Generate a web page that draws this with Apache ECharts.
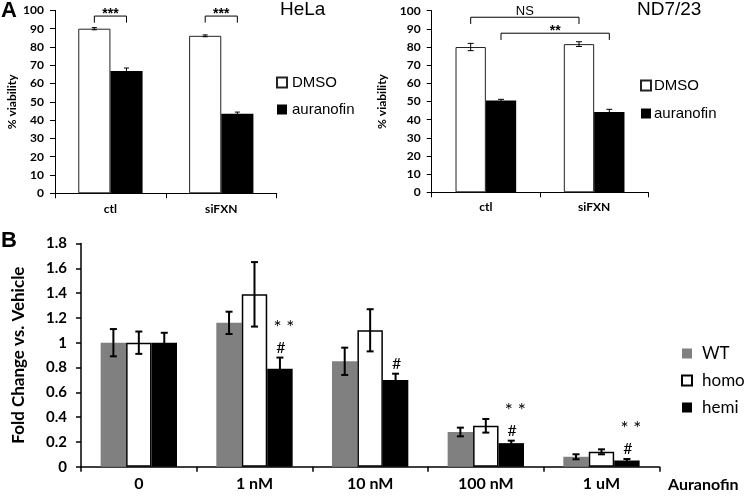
<!DOCTYPE html>
<html>
<head>
<meta charset="utf-8">
<script src="https://cdn.jsdelivr.net/npm/echarts@6/dist/echarts.min.js"></script>
<style>
  html, body { margin: 0; padding: 0; background: #fff; }
  #chart { width: 750px; height: 496px; }
</style>
</head>
<body>
<div id="chart"></div>
<script>
// ---------- DATA ----------
// Panel A, HeLa
const helaCategories = ['ctl', 'siFXN'];
const helaDMSO = [90.0, 86.1];
const helaDMSOErr = [0.6, 0.5];
const helaAuranofin = [66.8, 43.5];
const helaAuranofinErr = [1.7, 0.9];
// brackets: [cat1, bar1, cat2, bar2, level, legEnd]
const helaBrackets = [[0, 0, 0, 1, 96.9, 93.3], [1, 0, 1, 1, 96.9, 93.3]];
const helaBracketLabels = ['***', '***'];

// Panel A, ND7/23
const ndCategories = ['ctl', 'siFXN'];
const ndDMSO = [80.0, 81.6];
const ndDMSOErr = [2.0, 1.3];
const ndAuranofin = [50.5, 44.2];
const ndAuranofinErr = [0.7, 1.5];
const ndBrackets = [[0, 0, 1, 0, 96.4, 92.7], [0, 1, 1, 1, 87.6, 83.9]];
const ndBracketLabels = ['NS', '**'];

// Panel B
const bCategories = ['0', '1 nM', '10 nM', '100 nM', '1 uM'];
const wtValues = [1.00, 1.16, 0.85, 0.28, 0.08];
const wtErr = [0.11, 0.09, 0.11, 0.035, 0.02];
const homoValues = [1.00, 1.39, 1.10, 0.33, 0.12];
const homoErr = [0.09, 0.26, 0.17, 0.055, 0.02];
const hemiValues = [1.00, 0.79, 0.70, 0.19, 0.05];
const hemiErr = [0.08, 0.09, 0.05, 0.02, 0.012];
const hemiStars = ['', '**', '', '**', '**'];
const hemiHash = ['', '#', '#', '#', '#'];

const yTicksA = { min: 0, max: 100, interval: 10 };
const yTicksB = { min: 0, max: 1.8, interval: 0.2 };

// ---------- HELPERS ----------
const FONT_NUM = 'Lato';
const FONT_ARIAL = 'Liberation Sans';

function barSeries(name, xi, values, style, frac) {
  return {
    name, type: 'bar', xAxisIndex: xi, yAxisIndex: xi,
    data: values, barWidth: (frac * 100) + '%', barGap: '0%',
    itemStyle: style, silent: true, z: 2
  };
}

function errSeries(xi, values, errs, barIdx, nBars, frac, capW, lw) {
  return {
    type: 'custom', xAxisIndex: xi, yAxisIndex: xi, z: 10, silent: true,
    data: values.map((v, i) => [i, v, errs[i]]),
    encode: { x: 0, y: 1 },
    renderItem: function (params, api) {
      const cat = api.value(0), v = api.value(1), e = api.value(2);
      const bw = api.size([1, 0])[0] * frac;
      const off = (barIdx - (nBars - 1) / 2) * bw;
      const t = api.coord([cat, v + e]);
      const b = api.coord([cat, v - e]);
      const x = t[0] + off;
      const st = { stroke: '#000', lineWidth: lw };
      return {
        type: 'group', children: [
          { type: 'line', shape: { x1: x, y1: t[1], x2: x, y2: b[1] }, style: st },
          { type: 'line', shape: { x1: x - capW / 2, y1: t[1], x2: x + capW / 2, y2: t[1] }, style: st },
          { type: 'line', shape: { x1: x - capW / 2, y1: b[1], x2: x + capW / 2, y2: b[1] }, style: st }
        ]
      };
    }
  };
}

function bracketSeries(xi, rows, labels, nBars, frac, font, textGap) {
  return {
    type: 'custom', xAxisIndex: xi, yAxisIndex: xi, z: 10, silent: true,
    data: rows.map((r, i) => r.concat([i])),
    encode: { x: 0, y: 4 },
    renderItem: function (params, api) {
      const c1 = api.value(0), b1 = api.value(1), c2 = api.value(2), b2 = api.value(3);
      const lv = api.value(4), leg = api.value(5), idx = api.value(6);
      const bw = api.size([1, 0])[0] * frac;
      const p1 = api.coord([c1, lv]), p2 = api.coord([c2, lv]);
      const x1 = p1[0] + (b1 - (nBars - 1) / 2) * bw;
      const x2 = p2[0] + (b2 - (nBars - 1) / 2) * bw;
      const yl = api.coord([c1, leg])[1];
      const y = p1[1];
      const txt = labels[idx];
      const isStar = txt.indexOf('*') >= 0;
      return {
        type: 'group', children: [
          { type: 'polyline', shape: { points: [[x1, yl], [x1, y], [x2, y], [x2, yl]] },
            style: { stroke: '#000', lineWidth: 1, fill: null } },
          { type: 'text', style: { text: txt, x: (x1 + x2) / 2, y: y - (isStar ? textGap[0] : textGap[1]),
              align: 'center', verticalAlign: 'middle',
              font: isStar ? font[0] : font[1], fill: '#000' } }
        ]
      };
    }
  };
}

function markerSeries(xi, values, errs, stars, hashes, barIdx, nBars, frac) {
  return {
    type: 'custom', xAxisIndex: xi, yAxisIndex: xi, z: 11, silent: true,
    data: values.map((v, i) => [i, v + errs[i]]),
    encode: { x: 0, y: 1 },
    renderItem: function (params, api) {
      const cat = api.value(0), top = api.value(1);
      const bw = api.size([1, 0])[0] * frac;
      const off = (barIdx - (nBars - 1) / 2) * bw;
      const p = api.coord([cat, top]);
      const x = p[0] + off;
      const i = params.dataIndex;
      const children = [];
      if (hashes[i]) children.push({ type: 'text', style: { text: hashes[i], x: x + 1, y: p[1] - 10,
        align: 'center', verticalAlign: 'middle', font: '16px ' + FONT_NUM, fill: '#000' } });
      if (stars[i]) children.push({ type: 'text', style: { text: stars[i].split('').join(' '), x: x + 4, y: p[1] - 30,
        align: 'center', verticalAlign: 'middle', font: '19px ' + FONT_NUM, fill: '#000' } });
      return { type: 'group', children };
    }
  };
}

const white = { color: '#ffffff', borderColor: '#222', borderWidth: 1 };
const black = { color: '#000000' };
const gray = { color: '#808080' };
const whiteB = { color: '#ffffff', borderColor: '#000', borderWidth: 1.5 };

const fracA1 = 0.29, fracA2 = 0.28, fracB = 0.22;

function catAxis(gi, cats, fontSize, margin, lw) {
  return {
    type: 'category', gridIndex: gi, data: cats,
    axisLine: { lineStyle: { color: '#000', width: lw } },
    axisTick: { show: true, length: 5, lineStyle: { color: '#000', width: lw } },
    axisLabel: { color: '#000', fontFamily: FONT_NUM, fontWeight: 'bold', fontSize, margin },
    splitLine: { show: false }
  };
}
function valAxis(gi, ticks, fontSize, margin, lw, name, nameSize, nameGap) {
  return {
    type: 'value', gridIndex: gi, min: ticks.min, max: ticks.max, interval: ticks.interval,
    axisLine: { show: true, lineStyle: { color: '#000', width: lw } },
    axisTick: { show: true, length: 5, lineStyle: { color: '#000', width: lw } },
    axisLabel: { color: '#000', fontFamily: FONT_NUM, fontWeight: 'bold', fontSize, margin },
    splitLine: { show: false },
    name, nameLocation: 'middle', nameRotate: 90, nameGap,
    nameTextStyle: { color: '#000', fontFamily: FONT_NUM, fontWeight: 'bold', fontSize: nameSize }
  };
}

const option = {
  animation: false,
  backgroundColor: '#fff',
  title: [
    { text: 'A', left: 1, top: 0, padding: 0, textStyle: { fontFamily: FONT_ARIAL, fontWeight: 'bold', fontSize: 22, color: '#000' } },
    { text: 'B', left: 1, top: 230, padding: 0, textStyle: { fontFamily: FONT_ARIAL, fontWeight: 'bold', fontSize: 22, color: '#000' } },
    { text: 'HeLa', left: 280, top: 0, padding: 0, textStyle: { fontFamily: FONT_ARIAL, fontWeight: 'normal', fontSize: 19, color: '#000' } },
    { text: 'ND7/23', left: 637, top: 0, padding: 0, textStyle: { fontFamily: FONT_ARIAL, fontWeight: 'normal', fontSize: 19, color: '#000' } },
    { text: 'Auranofin', left: 668, top: 477, padding: 0, textStyle: { fontFamily: FONT_NUM, fontWeight: 'bold', fontSize: 16, color: '#000' } }
  ],
  legend: [
    { data: ['DMSO', 'auranofin'], orient: 'vertical', left: 276, top: 75, padding: 0, itemGap: 12,
      itemWidth: 10, itemHeight: 10, icon: 'rect', selectedMode: false,
      textStyle: { fontFamily: FONT_ARIAL, fontSize: 15, color: '#000', padding: [0, 0, 0, 0] } },
    { data: ['DMSO', 'auranofin'], orient: 'vertical', left: 640, top: 78, padding: 0, itemGap: 13,
      itemWidth: 10, itemHeight: 10, icon: 'rect', selectedMode: false,
      textStyle: { fontFamily: FONT_ARIAL, fontSize: 15, color: '#000', padding: [0, 0, 0, -2] } },
    { data: ['WT', 'homo', 'hemi'], orient: 'vertical', left: 681, top: 345, padding: 0, itemGap: 10,
      itemWidth: 10, itemHeight: 10, icon: 'rect', selectedMode: false,
      textStyle: { fontFamily: FONT_NUM, fontSize: 17, color: '#000', padding: [0, 0, 0, 5] } }
  ],
  grid: [
    { left: 55, top: 10.4, width: 221.7, height: 182.9 },
    { left: 431.7, top: 10.7, width: 216.6, height: 181.6 },
    { left: 81, top: 243.5, width: 578.3, height: 223.2 }
  ],
  xAxis: [
    catAxis(0, helaCategories, 12, 10, 1),
    catAxis(1, ndCategories, 12, 9, 1),
    catAxis(2, bCategories, 16, 9, 1.5)
  ],
  yAxis: [
    valAxis(0, yTicksA, 12, 11, 1, '% viability', 12, 37),
    valAxis(1, yTicksA, 12, 11, 1, '% viability', 12, 44),
    valAxis(2, yTicksB, 15, 14, 1.5, 'Fold Change vs. Vehicle', 17, 54)
  ],
  series: [
    barSeries('DMSO', 0, helaDMSO, white, fracA1),
    barSeries('auranofin', 0, helaAuranofin, black, fracA1),
    errSeries(0, helaDMSO, helaDMSOErr, 0, 2, fracA1, 5, 1),
    errSeries(0, helaAuranofin, helaAuranofinErr, 1, 2, fracA1, 5, 1),
    bracketSeries(0, helaBrackets, helaBracketLabels, 2, fracA1, ['bold 14px ' + FONT_ARIAL, '13px ' + FONT_ARIAL], [2, 6]),

    barSeries('DMSO', 1, ndDMSO, white, fracA2),
    barSeries('auranofin', 1, ndAuranofin, black, fracA2),
    errSeries(1, ndDMSO, ndDMSOErr, 0, 2, fracA2, 6, 1),
    errSeries(1, ndAuranofin, ndAuranofinErr, 1, 2, fracA2, 6, 1),
    bracketSeries(1, ndBrackets, ndBracketLabels, 2, fracA2, ['bold 14px ' + FONT_ARIAL, '13px ' + FONT_ARIAL], [2, 6]),

    barSeries('WT', 2, wtValues, gray, fracB),
    barSeries('homo', 2, homoValues, whiteB, fracB),
    barSeries('hemi', 2, hemiValues, black, fracB),
    errSeries(2, wtValues, wtErr, 0, 3, fracB, 7, 2),
    errSeries(2, homoValues, homoErr, 1, 3, fracB, 7, 2),
    errSeries(2, hemiValues, hemiErr, 2, 3, fracB, 7, 2),
    markerSeries(2, hemiValues, hemiErr, hemiStars, hemiHash, 2, 3, fracB)
  ]
};

const chart = echarts.init(document.getElementById('chart'), null, { renderer: 'canvas' });
chart.setOption(option);
</script>
</body>
</html>
